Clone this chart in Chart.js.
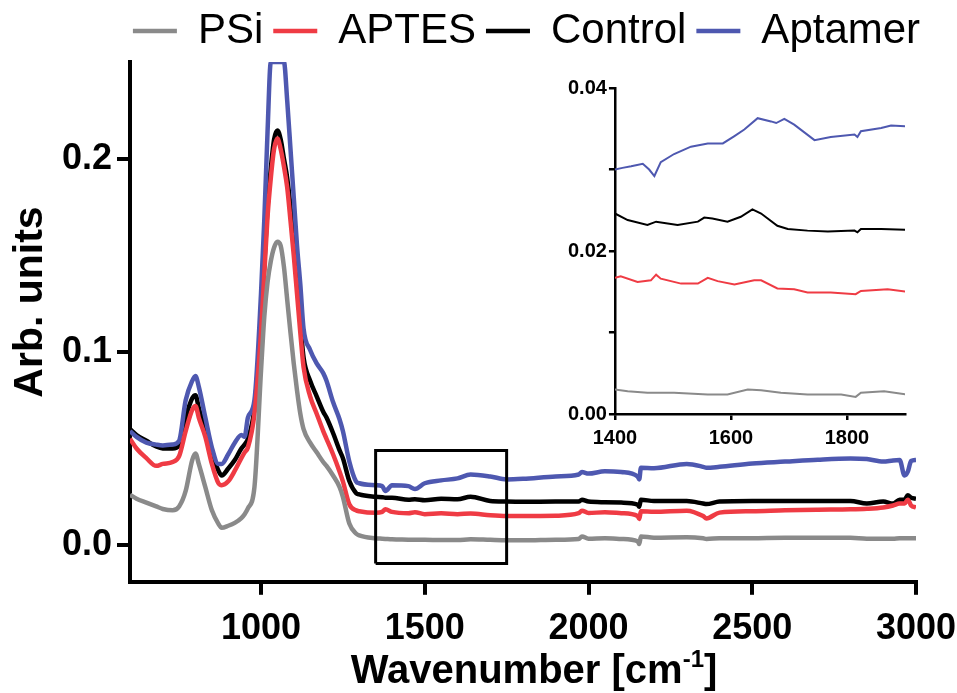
<!DOCTYPE html>
<html lang="en">
<head>
    <meta charset="UTF-8">
    <title>FTIR spectra</title>
    <style>
        body {
            margin: 0;
            background: #ffffff;
        }
        #wrap {
            position: relative;
            width: 957px;
            height: 693px;
        }
        #main {
            position: absolute;
            left: 0;
            top: 0;
        }
        #inset {
            position: absolute;
            left: 540px;
            top: 70px;
        }
    </style>
</head>
<body>
    <div id="wrap">
        <canvas id="main" width="957" height="693"></canvas>
        <canvas id="inset" width="400" height="390"></canvas>
    </div>
    <script src="https://cdn.jsdelivr.net/npm/chart.js"></script>
    <script>
        // main spectra
        const wavenumber = [600, 620, 650, 680, 700, 730, 750, 770, 790, 800, 810, 830, 850, 870, 880, 900, 920, 940, 950, 960, 980,
            1000, 1010, 1020, 1030, 1040, 1050, 1060, 1070, 1080, 1090, 1100, 1110, 1120, 1130, 1150, 1170, 1190, 1200, 1220, 1240, 1250,
            1270, 1290, 1300, 1350, 1370, 1380, 1400, 1450, 1470, 1500, 1550, 1600, 1640, 1700, 1750, 1800, 1900, 1970, 1980, 2000, 2050,
            2100, 2150, 2155, 2160, 2200, 2300, 2350, 2360, 2400, 2500, 2600, 2700, 2800, 2850, 2900, 2930, 2950, 2965, 2975, 2985, 3000];
        const psi = [0.026, 0.024, 0.022, 0.020, 0.0187, 0.018, 0.020, 0.028, 0.044, 0.0474, 0.042, 0.030, 0.018, 0.011, 0.009, 0.010, 0.0115, 0.014, 0.016, 0.019, 0.030,
            0.090, 0.118, 0.136, 0.147, 0.154, 0.157, 0.155, 0.144, 0.127, 0.110, 0.094, 0.080, 0.068, 0.060, 0.053, 0.048, 0.043, 0.041, 0.036, 0.030, 0.025,
            0.011, 0.006, 0.005, 0.0035, 0.0033, 0.0032, 0.003, 0.0028, 0.0027, 0.0027, 0.0026, 0.0026, 0.003, 0.0027, 0.0025, 0.0025, 0.0028, 0.0032, 0.0045, 0.0033, 0.0035,
            0.0032, 0.002, 0.0005, 0.0045, 0.0038, 0.004, 0.0035, 0.0032, 0.0035, 0.0036, 0.0038, 0.0038, 0.0038, 0.0033, 0.0033, 0.0033, 0.0035, 0.0035, 0.0036, 0.0036, 0.0036];
        const aptes = [0.055, 0.050, 0.045, 0.041, 0.042, 0.043, 0.046, 0.059, 0.070, 0.072, 0.066, 0.056, 0.042, 0.032, 0.031, 0.033, 0.0385, 0.045, 0.048, 0.0505, 0.068,
            0.110, 0.140, 0.170, 0.190, 0.205, 0.2104, 0.205, 0.196, 0.185, 0.168, 0.150, 0.130, 0.110, 0.092, 0.077, 0.068, 0.059, 0.055, 0.047, 0.038, 0.033,
            0.021, 0.018, 0.0175, 0.0167, 0.0172, 0.0185, 0.0172, 0.0165, 0.017, 0.016, 0.0165, 0.016, 0.0164, 0.0154, 0.015, 0.015, 0.0152, 0.0165, 0.0178, 0.0166, 0.017,
            0.0165, 0.015, 0.0135, 0.0175, 0.0172, 0.0178, 0.015, 0.0138, 0.0168, 0.0175, 0.018, 0.0183, 0.0185, 0.0188, 0.0195, 0.0205, 0.0215, 0.0215, 0.0235, 0.0205, 0.0195];
        const control = [0.060, 0.057, 0.054, 0.051, 0.050, 0.050, 0.0516, 0.066, 0.076, 0.0776, 0.071, 0.059, 0.047, 0.0385, 0.036, 0.0396, 0.044, 0.050, 0.052, 0.055, 0.071,
            0.115, 0.145, 0.175, 0.195, 0.210, 0.2146, 0.210, 0.200, 0.190, 0.175, 0.155, 0.135, 0.115, 0.097, 0.085, 0.077, 0.069, 0.066, 0.058, 0.049, 0.045,
            0.033, 0.027, 0.0262, 0.025, 0.0248, 0.0245, 0.0245, 0.0235, 0.0237, 0.0232, 0.024, 0.0237, 0.025, 0.0228, 0.0225, 0.0224, 0.0225, 0.0225, 0.0235, 0.0225, 0.0222,
            0.022, 0.021, 0.0198, 0.0235, 0.0228, 0.0228, 0.0215, 0.0212, 0.0225, 0.0228, 0.0228, 0.0228, 0.0228, 0.0215, 0.0225, 0.0215, 0.0235, 0.0235, 0.0258, 0.0245, 0.024];
        const aptamer = [0.059, 0.056, 0.053, 0.052, 0.0516, 0.052, 0.054, 0.075, 0.085, 0.0875, 0.082, 0.066, 0.0505, 0.042, 0.042, 0.047, 0.053, 0.057, 0.056, 0.066, 0.075,
            0.130, 0.168, 0.214, 0.25, 0.25, 0.25, 0.25, 0.25, 0.23, 0.205, 0.18, 0.155, 0.135, 0.112, 0.101, 0.094, 0.089, 0.085, 0.074, 0.065, 0.059,
            0.043, 0.033, 0.032, 0.031, 0.0305, 0.028, 0.031, 0.0305, 0.029, 0.032, 0.0335, 0.0345, 0.0365, 0.0355, 0.034, 0.0343, 0.0355, 0.0365, 0.0378, 0.037, 0.0382,
            0.0378, 0.0355, 0.034, 0.040, 0.0398, 0.042, 0.0405, 0.040, 0.0405, 0.0422, 0.0432, 0.0442, 0.0448, 0.0445, 0.0432, 0.0438, 0.044, 0.036, 0.038, 0.0435, 0.044];

        // zoom box drawn on the main plot
        const boxX = [1350, 1750, 1750, 1350, 1350];
        const boxY = [-0.0095, -0.0095, 0.049, 0.049, -0.0095];

        const mainXTicks = [1000, 1500, 2000, 2500, 3000];
        const mainYTicks = [0, 0.1, 0.2];

        // inset, 1400-1900 cm-1
        const insetPsiX = [1400, 1422, 1456, 1502, 1560, 1594, 1629, 1652, 1686, 1732, 1790, 1815, 1824, 1864, 1902];
        const insetPsiY = [0.0030, 0.0028, 0.0026, 0.0026, 0.0024, 0.0024, 0.0030, 0.0029, 0.0026, 0.0024, 0.0024, 0.0021, 0.0026, 0.0028, 0.0024];
        const insetAptesX = [1400, 1410, 1439, 1462, 1471, 1479, 1514, 1543, 1560, 1577, 1606, 1640, 1652, 1680, 1709, 1732, 1772, 1815, 1824, 1870, 1902];
        const insetAptesY = [0.0167, 0.0169, 0.0162, 0.0164, 0.0171, 0.0166, 0.0160, 0.0160, 0.0167, 0.0163, 0.0159, 0.0164, 0.0164, 0.0154, 0.0153, 0.0149, 0.0149, 0.0147, 0.0151, 0.0153, 0.0150];
        const insetControlX = [1400, 1422, 1456, 1471, 1508, 1543, 1554, 1568, 1594, 1617, 1637, 1652, 1680, 1698, 1732, 1767, 1813, 1818, 1824, 1859, 1902];
        const insetControlY = [0.0246, 0.0238, 0.0232, 0.0236, 0.0232, 0.0236, 0.0241, 0.0240, 0.0236, 0.0242, 0.0251, 0.0246, 0.0231, 0.0227, 0.0225, 0.0224, 0.0225, 0.0223, 0.0227, 0.0227, 0.0226];
        const insetAptamerX = [1400, 1413, 1428, 1448, 1459, 1468, 1479, 1502, 1531, 1560, 1586, 1606, 1623, 1646, 1669, 1678, 1692, 1709, 1744, 1772, 1813, 1818, 1824, 1859, 1876, 1902];
        const insetAptamerY = [0.0300, 0.0302, 0.0304, 0.0307, 0.0300, 0.0292, 0.0309, 0.0319, 0.0328, 0.0332, 0.0332, 0.0341, 0.0349, 0.0363, 0.0359, 0.0357, 0.0362, 0.0355, 0.0336, 0.0340, 0.0343, 0.0340, 0.0347, 0.0351, 0.0354, 0.0353];

        const insetXTicks = [1400, 1600, 1800];
        const insetYTicks = [0, 0.01, 0.02, 0.03, 0.04];

        const legendOrder = ['PSi', 'APTES', 'Control', 'Aptamer'];

        const COLORS = {
            psi: '#8a8a8a',
            aptes: '#ef3b44',
            control: '#000000',
            aptamer: '#4e58b0'
        };

        const FONT = '"Liberation Sans", Arial, sans-serif';

        function points(xs, ys) {
            return xs.map((x, i) => ({ x: x, y: ys[i] }));
        }

        function spectrum(label, ys, color) {
            return {
                label: label,
                data: points(wavenumber, ys),
                borderColor: color,
                backgroundColor: color,
                borderWidth: 4.5,
                pointRadius: 0,
                pointStyle: 'line',
                cubicInterpolationMode: 'monotone',
                fill: false
            };
        }

        function insetLine(label, xs, ys, color) {
            return {
                label: label,
                data: points(xs, ys),
                borderColor: color,
                borderWidth: 2,
                pointRadius: 0,
                fill: false
            };
        }

        // axis titles with a real superscript
        const axisTitles = {
            id: 'axisTitles',
            afterLayout(chart) {
                // y labels sit in the left padding, so widen their clip area
                const y = chart.scales.y;
                y.left = 0;
                y.width = y.right;
            },
            afterDraw(chart) {
                const ctx = chart.ctx;
                ctx.save();
                ctx.fillStyle = '#000';
                ctx.textBaseline = 'alphabetic';

                ctx.font = 'bold 41px ' + FONT;
                ctx.save();
                ctx.translate(42, 302);
                ctx.rotate(-Math.PI / 2);
                ctx.textAlign = 'center';
                ctx.fillText('Arb. units', 0, 0);
                ctx.restore();

                const a = 'Wavenumber [cm';
                const sup = '-1';
                const b = ']';
                ctx.textAlign = 'left';
                ctx.font = 'bold 40px ' + FONT;
                const wa = ctx.measureText(a).width;
                const wb = ctx.measureText(b).width;
                ctx.font = 'bold 24px ' + FONT;
                const ws = ctx.measureText(sup).width;
                let x = 534 - (wa + ws + wb) / 2;
                const base = 683;
                ctx.font = 'bold 40px ' + FONT;
                ctx.fillText(a, x, base);
                x += wa;
                ctx.font = 'bold 24px ' + FONT;
                ctx.fillText(sup, x, base - 16);
                x += ws;
                ctx.font = 'bold 40px ' + FONT;
                ctx.fillText(b, x, base);
                ctx.restore();
            }
        };

        function createMainChart() {
            const ctx = document.getElementById('main').getContext('2d');
            new Chart(ctx, {
                type: 'line',
                data: {
                    datasets: [
                        {
                            label: 'box',
                            data: points(boxX, boxY),
                            borderColor: '#000',
                            borderWidth: 3,
                            pointRadius: 0,
                            tension: 0,
                            fill: false
                        },
                        spectrum('PSi', psi, COLORS.psi),
                        spectrum('APTES', aptes, COLORS.aptes),
                        spectrum('Aptamer', aptamer, COLORS.aptamer),
                        spectrum('Control', control, COLORS.control)
                    ]
                },
                options: {
                    responsive: false,
                    animation: false,
                    devicePixelRatio: 1,
                    layout: {
                        // left padding also centres the legend where the original has it
                        padding: { left: 96, right: 0, top: 0, bottom: 29 }
                    },
                    scales: {
                        x: {
                            type: 'linear',
                            min: 600,
                            max: 3000,
                            afterBuildTicks: (scale) => {
                                scale.ticks = mainXTicks.map(v => ({ value: v }));
                            },
                            afterFit: (scale) => {
                                scale.paddingRight = 41;
                            },
                            ticks: {
                                color: '#000',
                                font: { family: FONT, size: 36, weight: 'bold' },
                                padding: 13,
                                maxRotation: 0,
                                callback: (v) => String(v)
                            },
                            grid: {
                                drawOnChartArea: false,
                                tickLength: 13,
                                lineWidth: 4,
                                color: '#000'
                            },
                            border: { display: true, width: 4, color: '#000' }
                        },
                        y: {
                            min: -0.019,
                            max: 0.25,
                            afterBuildTicks: (scale) => {
                                scale.ticks = mainYTicks.map(v => ({ value: v }));
                            },
                            afterFit: (scale) => {
                                scale.width = 34;
                            },
                            ticks: {
                                color: '#000',
                                font: { family: FONT, size: 36, weight: 'bold' },
                                padding: 5,
                                callback: (v) => v.toFixed(1)
                            },
                            grid: {
                                drawOnChartArea: false,
                                tickLength: 13,
                                lineWidth: 4,
                                color: '#000'
                            },
                            border: { display: true, width: 4, color: '#000' }
                        }
                    },
                    plugins: {
                        legend: {
                            position: 'top',
                            labels: {
                                filter: (item) => item.text !== 'box',
                                sort: (a, b) => legendOrder.indexOf(a.text) - legendOrder.indexOf(b.text),
                                usePointStyle: true,
                                pointStyle: 'line',
                                pointStyleWidth: 44,
                                padding: 10,
                                color: '#000',
                                font: { family: FONT, size: 42 }
                            }
                        },
                        tooltip: { enabled: false }
                    }
                },
                plugins: [axisTitles]
            });
        }

        function createInsetChart() {
            const ctx = document.getElementById('inset').getContext('2d');
            new Chart(ctx, {
                type: 'line',
                data: {
                    datasets: [
                        insetLine('PSi', insetPsiX, insetPsiY, COLORS.psi),
                        insetLine('APTES', insetAptesX, insetAptesY, COLORS.aptes),
                        insetLine('Aptamer', insetAptamerX, insetAptamerY, COLORS.aptamer),
                        insetLine('Control', insetControlX, insetControlY, COLORS.control)
                    ]
                },
                options: {
                    responsive: false,
                    animation: false,
                    devicePixelRatio: 1,
                    layout: {
                        padding: { left: 26, right: 35, top: 18, bottom: 4 }
                    },
                    scales: {
                        x: {
                            type: 'linear',
                            min: 1400,
                            max: 1900,
                            afterBuildTicks: (scale) => {
                                scale.ticks = insetXTicks.map(v => ({ value: v }));
                            },
                            ticks: {
                                color: '#000',
                                font: { family: FONT, size: 20, weight: 'bold' },
                                padding: 6,
                                maxRotation: 0,
                                callback: (v) => String(v)
                            },
                            grid: {
                                drawOnChartArea: false,
                                tickLength: 6,
                                lineWidth: 2.5,
                                color: '#000'
                            },
                            border: { display: true, width: 2.5, color: '#000' }
                        },
                        y: {
                            min: 0,
                            max: 0.04,
                            afterBuildTicks: (scale) => {
                                scale.ticks = insetYTicks.map(v => ({ value: v }));
                            },
                            ticks: {
                                color: '#000',
                                font: { family: FONT, size: 20, weight: 'bold' },
                                padding: 2,
                                callback: (v) => Math.round(v * 100) % 2 === 0 ? v.toFixed(2) : ''
                            },
                            grid: {
                                drawOnChartArea: false,
                                tickLength: 6,
                                lineWidth: 2.5,
                                color: '#000'
                            },
                            border: { display: true, width: 2.5, color: '#000' }
                        }
                    },
                    plugins: {
                        legend: { display: false },
                        tooltip: { enabled: false }
                    }
                }
            });
        }

        createMainChart();
        createInsetChart();
    </script>
</body>
</html>
